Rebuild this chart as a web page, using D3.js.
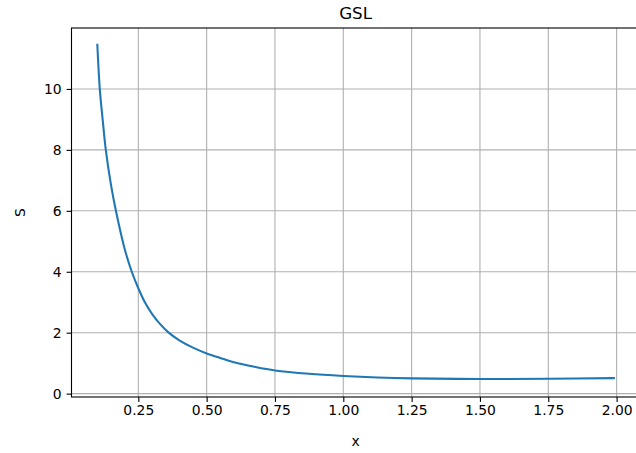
<!DOCTYPE html>
<html>
<head>
<meta charset="utf-8">
<script src="https://cdn.jsdelivr.net/npm/d3@7"></script>
<style>
    body { margin: 0; background: #fff; }
    text { font-family: "DejaVu Sans", sans-serif; fill: #000; }
</style>
</head>
<body>
<div id="chart"></div>
<script>
// values
var xValues = [0.10, 0.109, 0.12, 0.131, 0.15, 0.168, 0.20, 0.226, 0.25, 0.275, 0.30, 0.33, 0.36, 0.40,
               0.45, 0.50, 0.55, 0.60, 0.675, 0.75, 0.875, 1.00, 1.125, 1.25, 1.50, 1.75, 1.99];
var sValues = [11.45, 10.0, 8.95, 8.0, 6.85, 6.0, 4.75, 4.0, 3.46, 2.98, 2.62, 2.28, 2.01, 1.75,
               1.51, 1.32, 1.17, 1.03, 0.88, 0.76, 0.65, 0.58, 0.53, 0.50, 0.48, 0.49, 0.51];
var xTicks = [0.25, 0.50, 0.75, 1.00, 1.25, 1.50, 1.75, 2.00];
var yTicks = [0, 2, 4, 6, 8, 10];

var width = 636,
    height = 453,
    margin = {
        left: 71.5,
        right: 639.7,   // axes runs a little past the picture edge
        top: 28,
        bottom: 397
    },
    title = "GSL";

var data = xValues.map(function(x, i) { return {x: x, s: sValues[i]}; });

// matplotlib style 5% padding around the data
var pad = function(ext) {
    var r = ext[1] - ext[0];
    return [ext[0] - 0.05 * r, ext[1] + 0.05 * r];
};

var x = d3.scaleLinear()
    .domain(pad(d3.extent(xValues)))
    .range([margin.left, margin.right]);

var y = d3.scaleLinear()
    .domain(pad([0.44, d3.max(sValues)]))
    .range([margin.bottom, margin.top]);

var svg = d3.select("#chart").append("svg")
    .attr("width", width)
    .attr("height", height);

// grid
svg.append("g").selectAll("line").data(xTicks).enter().append("line")
    .attr("x1", function(d) { return x(d); })
    .attr("x2", function(d) { return x(d); })
    .attr("y1", margin.top)
    .attr("y2", margin.bottom)
    .attr("stroke", "#b0b0b0")
    .attr("stroke-width", 1.1);

svg.append("g").selectAll("line").data(yTicks).enter().append("line")
    .attr("x1", margin.left)
    .attr("x2", margin.right)
    .attr("y1", function(d) { return y(d); })
    .attr("y2", function(d) { return y(d); })
    .attr("stroke", "#b0b0b0")
    .attr("stroke-width", 1.1);

// the curve
var line = d3.line()
    .x(function(d) { return x(d.x); })
    .y(function(d) { return y(d.s); })
    .curve(d3.curveCatmullRom.alpha(0.5));

svg.append("path")
    .datum(data)
    .attr("d", line)
    .attr("fill", "none")
    .attr("stroke", "#1f77b4")
    .attr("stroke-width", 2.08)
    .attr("stroke-linecap", "square");

// axes
var xAxis = d3.axisBottom(x)
    .tickValues(xTicks)
    .tickFormat(d3.format(".2f"))
    .tickSize(4.9)
    .tickPadding(3.5);

var yAxis = d3.axisLeft(y)
    .tickValues(yTicks)
    .tickFormat(d3.format("d"))
    .tickSize(4.9)
    .tickPadding(4.9);

var gx = svg.append("g")
    .attr("transform", "translate(0," + margin.bottom + ")")
    .call(xAxis);

var gy = svg.append("g")
    .attr("transform", "translate(" + margin.left + ",0)")
    .call(yAxis);

[gx, gy].forEach(function(g) {
    g.select(".domain").remove();
    g.selectAll(".tick line").attr("stroke", "#000").attr("stroke-width", 1.1);
    g.selectAll(".tick text")
        .style("font-family", "DejaVu Sans")
        .style("font-size", "13.9px")
        .attr("fill", "#000");
});

// frame
svg.append("rect")
    .attr("x", margin.left)
    .attr("y", margin.top)
    .attr("width", margin.right - margin.left)
    .attr("height", margin.bottom - margin.top)
    .attr("fill", "none")
    .attr("stroke", "#000")
    .attr("stroke-width", 1.1);

// labels
svg.append("text")
    .attr("x", (margin.left + margin.right) / 2)
    .attr("y", 19)
    .style("text-anchor", "middle")
    .style("font-size", "16.7px")
    .text(title);

svg.append("text")
    .attr("x", (margin.left + margin.right) / 2)
    .attr("y", 446)
    .style("text-anchor", "middle")
    .style("font-size", "13.9px")
    .text("x");

svg.append("text")
    .attr("transform", "translate(25," + (margin.top + margin.bottom) / 2 + ") rotate(-90)")
    .style("text-anchor", "middle")
    .style("font-size", "13.9px")
    .text("S");
</script>
</body>
</html>
